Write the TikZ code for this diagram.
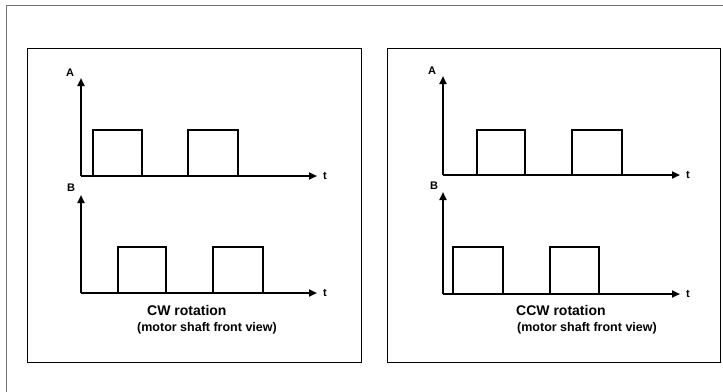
\documentclass[tikz,border=0pt]{standalone}
\usepackage{fontspec}
\setmainfont{Liberation Sans}
\usetikzlibrary{arrows.meta}
\tikzset{
  outerframe/.style={draw=black!55, line width=1.8pt},
  panel/.style={draw=black, line width=1pt},
  axis/.style={draw=black, line width=2pt, -{Triangle[length=8pt,width=7pt]}},
  pulse/.style={draw=black, line width=2.8pt, line join=miter},
  lbl/.style={font=\bfseries\fontsize{11}{12}\selectfont, inner sep=0pt},
  cap1/.style={font=\bfseries\fontsize{14}{15}\selectfont, inner sep=0pt, anchor=west},
  cap2/.style={font=\bfseries\fontsize{12.5}{14}\selectfont, inner sep=0pt, anchor=west}
}
\begin{document}
\begin{tikzpicture}[x=1pt,y=-1pt]
\useasboundingbox (0,0) rectangle (723,391);
% outer frame
\draw[outerframe] (6.5,400) -- (6.5,5.5) -- (730,5.5);
% panels
\draw[panel] (27,48) rectangle (361,362);
\draw[panel] (387,48) rectangle (720,362);

% ---------- left panel (CW) ----------
\coordinate (LAo) at (81,176);
\coordinate (LAy) at (81,78);
\coordinate (LAx) at (317,176);
\coordinate (LBo) at (81,293);
\coordinate (LBy) at (81,195);
\coordinate (LBx) at (317,293);
\draw[axis] (LAo) -- (LAy);
\draw[axis] (LAo) -- (LAx);
\draw[axis] (LBo) -- (LBy);
\draw[axis] (LBo) -- (LBx);
\node[lbl] (lA) at (70,73) {A};
\node[lbl] (lB) at (71,188) {B};
\node[lbl] (ltA) at (325,176) {t};
\node[lbl] (ltB) at (325,293) {t};
\draw[pulse] (LAo) -- (93,176) -- (93,130) -- (142,130) -- (142,176) -- (188,176) -- (188,130) -- (238,130) -- (238,176) -- (270,176);
\draw[pulse] (LBo) -- (118,293) -- (118,247) -- (166,247) -- (166,293) -- (213,293) -- (213,247) -- (263,247) -- (263,293) -- (290,293);
\node[cap1] (lc1) at (147,310) {CW rotation};
\node[cap2] (lc2) at (137,328) {(motor shaft front view)};

% ---------- right panel (CCW) ----------
\coordinate (RAo) at (443,175);
\coordinate (RAy) at (443,76);
\coordinate (RAx) at (680,175);
\coordinate (RBo) at (443,294);
\coordinate (RBy) at (443,192);
\coordinate (RBx) at (680,294);
\draw[axis] (RAo) -- (RAy);
\draw[axis] (RAo) -- (RAx);
\draw[axis] (RBo) -- (RBy);
\draw[axis] (RBo) -- (RBx);
\node[lbl] (rA) at (432,71) {A};
\node[lbl] (rB) at (434,186) {B};
\node[lbl] (rtA) at (688,175) {t};
\node[lbl] (rtB) at (688,294) {t};
\draw[pulse] (RAo) -- (477,175) -- (477,130) -- (525,130) -- (525,175) -- (572,175) -- (572,130) -- (622,130) -- (622,175) -- (650,175);
\draw[pulse] (RBo) -- (453,294) -- (453,247) -- (503,247) -- (503,294) -- (550,294) -- (550,247) -- (599,247) -- (599,294) -- (630,294);
\node[cap1] (rc1) at (516,310) {CCW rotation};
\node[cap2] (rc2) at (517,328) {(motor shaft front view)};
\end{tikzpicture}
\end{document}
